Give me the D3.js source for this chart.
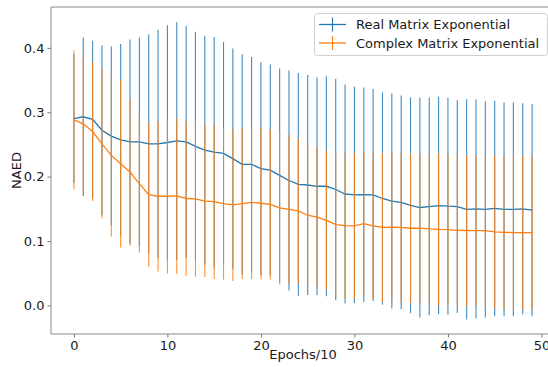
<!DOCTYPE html>
<html><head><meta charset="utf-8">
<script src="https://cdn.jsdelivr.net/npm/d3@7"></script>
<style>body{margin:0;background:#fff}svg{display:block;font-family:"DejaVu Sans",sans-serif}</style>
</head><body><svg id="c" width="548" height="367"></svg>
<script>
const epochs = d3.range(0, 50);
const realMean = [0.290,0.293,0.289,0.272,0.263,0.257,0.254,0.254,0.251,0.251,0.253,0.2555,0.254,0.247,0.241,0.238,0.236,0.228,0.219,0.219,0.2125,0.210,0.202,0.194,0.188,0.187,0.185,0.185,0.180,0.173,0.1716,0.172,0.1716,0.166,0.162,0.160,0.1555,0.152,0.1535,0.155,0.154,0.1535,0.149,0.150,0.149,0.1505,0.149,0.149,0.150,0.148];
const realStd = [0.100,0.123,0.122,0.132,0.139,0.149,0.159,0.162,0.170,0.177,0.182,0.1845,0.180,0.178,0.178,0.179,0.173,0.171,0.171,0.167,0.1655,0.164,0.166,0.171,0.173,0.171,0.169,0.171,0.172,0.170,0.168,0.1666,0.1644,0.165,0.167,0.166,0.1675,0.171,0.169,0.169,0.1685,0.1655,0.171,0.170,0.168,0.1675,0.166,0.166,0.164,0.165];
const complexMean = [0.288,0.282,0.270,0.251,0.233,0.220,0.207,0.189,0.172,0.1695,0.1695,0.170,0.166,0.1655,0.162,0.161,0.158,0.156,0.158,0.160,0.1586,0.157,0.1515,0.149,0.1467,0.140,0.137,0.132,0.1255,0.124,0.1234,0.127,0.1234,0.121,0.1214,0.121,0.1198,0.120,0.1187,0.118,0.1177,0.1166,0.1163,0.116,0.116,0.114,0.1135,0.113,0.113,0.113];
const complexStd = [0.108,0.110,0.108,0.116,0.126,0.130,0.114,0.107,0.112,0.117,0.120,0.121,0.120,0.121,0.118,0.120,0.118,0.118,0.117,0.119,0.118,0.117,0.119,0.116,0.113,0.110,0.109,0.1075,0.1125,0.113,0.1136,0.111,0.1136,0.116,0.116,0.116,0.116,0.116,0.117,0.118,0.117,0.1165,0.117,0.117,0.117,0.119,0.120,0.120,0.120,0.120];
const xTicks = [0,10,20,30,40,50];
const yTicks = [0.0,0.1,0.2,0.3,0.4];
const seriesNames = ["Real Matrix Exponential","Complex Matrix Exponential"];
const colors = ["#1f77b4","#ff7f0e"];

const svg = d3.select("#c");
const L=51, R=555, T=7, B=334;
const x = d3.scaleLinear().domain([-2.45,51.45]).range([L,R]);
const y = d3.scaleLinear().domain([-0.0445,0.4635]).range([B,T]);

svg.append("defs").append("clipPath").attr("id","clip").append("rect")
  .attr("x",L).attr("y",T).attr("width",R-L).attr("height",B-T);

const plot = svg.append("g").attr("clip-path","url(#clip)");
const series = [
  {name:seriesNames[0], mean:realMean, std:realStd, color:colors[0]},
  {name:seriesNames[1], mean:complexMean, std:complexStd, color:colors[1]}
];
const line = d3.line().x((d,i)=>x(epochs[i])).y(d=>y(d));
series.forEach(s=>{
  plot.append("g").selectAll("line").data(s.mean).join("line")
    .attr("x1",(d,i)=>x(epochs[i])).attr("x2",(d,i)=>x(epochs[i]))
    .attr("y1",(d,i)=>y(d+s.std[i])).attr("y2",(d,i)=>y(d-s.std[i]))
    .attr("stroke",s.color).attr("stroke-width",1.1).attr("stroke-opacity",0.85);
  plot.append("path").datum(s.mean).attr("d",line)
    .attr("fill","none").attr("stroke",s.color).attr("stroke-width",1.3);
});

// axes
const xAxis = svg.append("g").attr("transform",`translate(0,${B})`)
  .call(d3.axisBottom(x).tickValues(xTicks).tickFormat(d3.format("d")).tickSize(3.5).tickPadding(3));
const yAxis = svg.append("g").attr("transform",`translate(${L},0)`)
  .call(d3.axisLeft(y).tickValues(yTicks).tickFormat(d3.format(".1f")).tickSize(3.5).tickPadding(3));
[xAxis,yAxis].forEach(a=>{
  a.select(".domain").remove();
  a.selectAll(".tick line").attr("stroke","#777").attr("stroke-width",1);
  a.selectAll(".tick text").attr("fill","#1a1a1a").attr("font-size",13).attr("font-family","DejaVu Sans");
});
// spines
svg.append("path").attr("d",`M${L},${T}H${R}M${L},${T}V${B}H${R}`)
  .attr("fill","none").attr("stroke","#888").attr("stroke-width",1);

svg.append("text").attr("x",(L+R)/2).attr("y",359).attr("text-anchor","middle")
  .attr("font-size",13).attr("fill","#1a1a1a").text("Epochs/10");
svg.append("text").attr("transform",`translate(21,${(T+B)/2}) rotate(-90)`).attr("text-anchor","middle")
  .attr("font-size",13).attr("fill","#1a1a1a").text("NAED");

// legend
const lg = svg.append("g");
lg.append("rect").attr("x",314.5).attr("y",13.5).attr("width",233).attr("height",42).attr("rx",3)
  .attr("fill","#fff").attr("fill-opacity",0.85).attr("stroke","#d0d0d0");
series.forEach((s,i)=>{
  const cy = 24.5 + i*18.5;
  lg.append("line").attr("x1",319).attr("x2",346).attr("y1",cy).attr("y2",cy).attr("stroke",s.color).attr("stroke-width",1.3);
  lg.append("line").attr("x1",332.5).attr("x2",332.5).attr("y1",cy-7).attr("y2",cy+7).attr("stroke",s.color).attr("stroke-width",1.1);
  lg.append("text").attr("x",356).attr("y",cy+4.7).attr("font-size",13).attr("fill","#1a1a1a").text(s.name);
});
</script></body></html>
